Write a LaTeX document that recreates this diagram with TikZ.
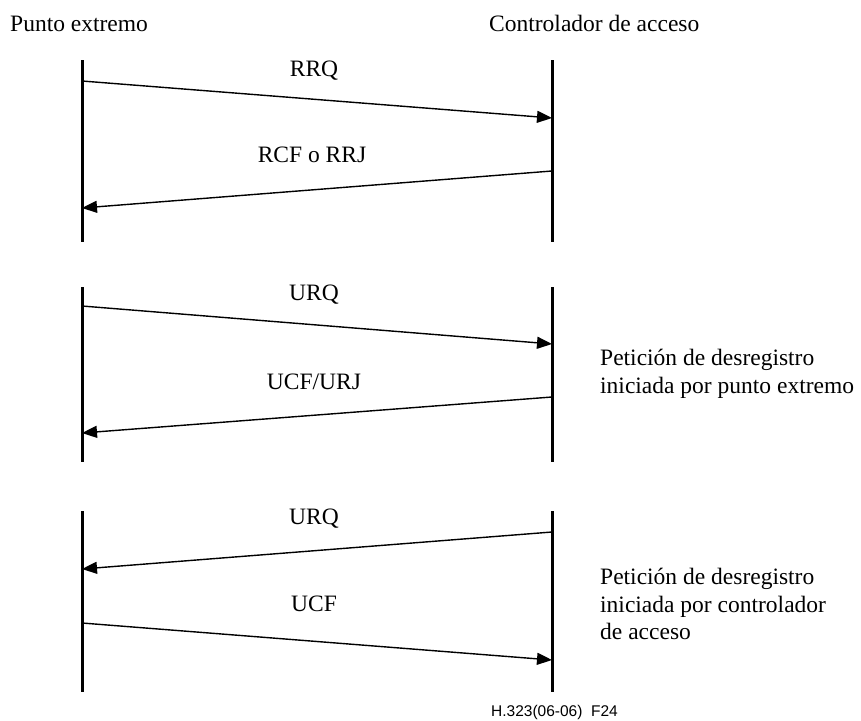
\documentclass[tikz,border=0pt]{standalone}
\usepackage{fontspec}
\setmainfont{Liberation Serif}
\newfontfamily\footfont{Liberation Sans}
\usetikzlibrary{arrows.meta}
\begin{document}
\begin{tikzpicture}[x=1pt,y=-1pt,
  lifeline/.style={line width=3pt},
  msg/.style={line width=1.4pt,-{Triangle[length=15pt,width=12pt]}},
  msglabel/.style={anchor=base,inner sep=0pt,font=\fontsize{23.5}{27}\selectfont},
  heading/.style={anchor=base west,inner sep=0pt,font=\fontsize{23.5}{27}\selectfont},
  note/.style={anchor=north west,inner sep=0pt,align=left,font=\fontsize{23.5}{27.5}\selectfont},
  footer/.style={anchor=base west,inner sep=0pt,font=\footfont\fontsize{15.5}{18}\selectfont}]
\useasboundingbox (0,0) rectangle (861,720);

% participants
\node[heading] (ep) at (10,31) {Punto extremo};
\node[heading] (gk) at (489,31) {Controlador de acceso};

% lifelines, three phases
\coordinate (L1t) at (82,60);  \coordinate (L1b) at (82,242);
\coordinate (R1t) at (552,60); \coordinate (R1b) at (552,242);
\coordinate (L2t) at (82,287); \coordinate (L2b) at (82,462);
\coordinate (R2t) at (552,287);\coordinate (R2b) at (552,462);
\coordinate (L3t) at (82,511); \coordinate (L3b) at (82,692);
\coordinate (R3t) at (552,511);\coordinate (R3b) at (552,692);
\foreach \a/\b in {L1t/L1b,R1t/R1b,L2t/L2b,R2t/R2b,L3t/L3b,R3t/R3b}
  \draw[lifeline] (\a) -- (\b);

% message end points
\coordinate (a1s) at (82,81);   \coordinate (a1e) at (552,118);
\coordinate (a2s) at (552,171); \coordinate (a2e) at (82,208);
\coordinate (a3s) at (82,306);  \coordinate (a3e) at (552,344);
\coordinate (a4s) at (552,397); \coordinate (a4e) at (82,433);
\coordinate (a5s) at (552,532); \coordinate (a5e) at (82,569);
\coordinate (a6s) at (82,623);  \coordinate (a6e) at (552,660);

% registration
\draw[msg] (a1s) -- (a1e);
\node[msglabel] (m1) at (314,76) {RRQ};
\draw[msg] (a2s) -- (a2e);
\node[msglabel] (m2) at (312,162) {RCF o RRJ};

% unregistration by the endpoint
\draw[msg] (a3s) -- (a3e);
\node[msglabel] (m3) at (314,300) {URQ};
\draw[msg] (a4s) -- (a4e);
\node[msglabel] (m4) at (314,389) {UCF/URJ};
\node[note] (n1) at (600,349) {Petición de desregistro\\iniciada por punto extremo};

% unregistration by the gatekeeper
\draw[msg] (a5s) -- (a5e);
\node[msglabel] (m5) at (314,524) {URQ};
\draw[msg] (a6s) -- (a6e);
\node[msglabel] (m6) at (314,611) {UCF};
\node[note] (n2) at (600,568) {Petición de desregistro\\iniciada por controlador\\de acceso};

\node[footer] (fig) at (491,716) {H.323(06-06)\ \ F24};
\end{tikzpicture}
\end{document}
